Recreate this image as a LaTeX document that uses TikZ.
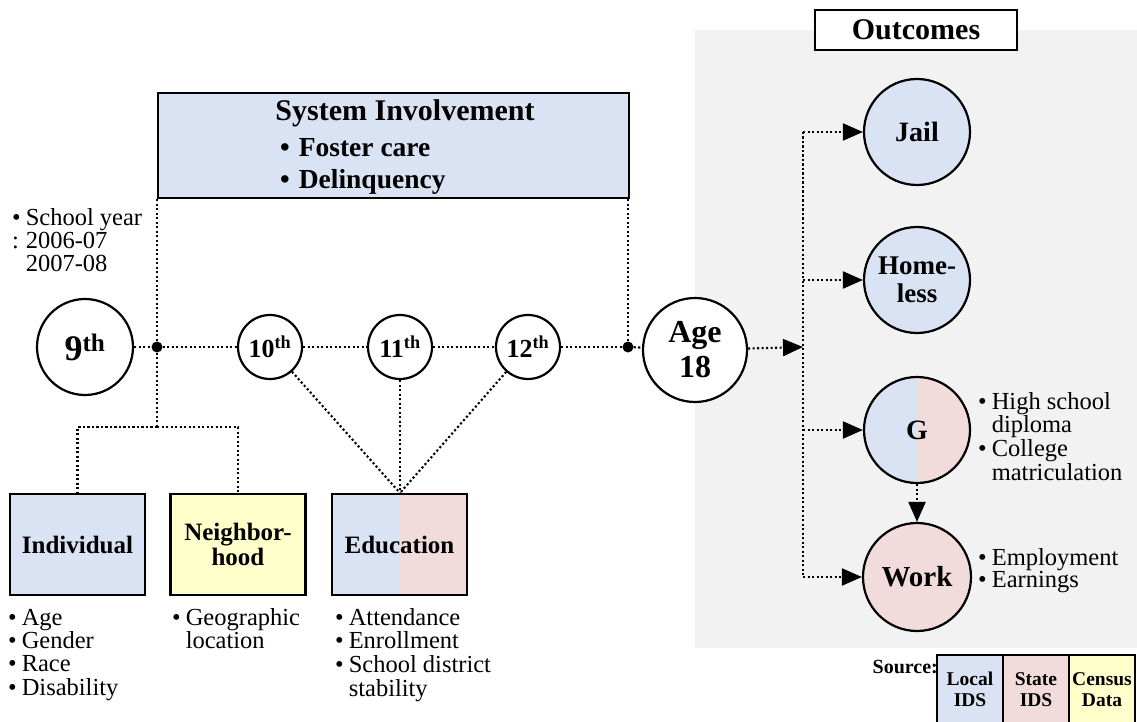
\documentclass[tikz,border=0pt]{standalone}
\usepackage{fontspec}
\setmainfont{Liberation Serif}
\usetikzlibrary{arrows.meta}
\definecolor{bluec}{HTML}{DAE3F3}
\definecolor{pinkc}{HTML}{F2DCDB}
\definecolor{yellowc}{HTML}{FFFFCC}
\definecolor{greyc}{HTML}{F2F2F2}
\newcommand\myfs[2]{\fontsize{#1}{#2}\selectfont}
\newcommand\blist[1]{\begin{tabular}[t]{@{}l@{\hspace{5pt}}l@{}}#1\end{tabular}}
\begin{document}
\begin{tikzpicture}[x=1pt,y=-1pt,
  conn/.style={line width=2.1pt, dash pattern=on 2.1pt off 2.4pt},
  arr/.style={conn, -{Triangle[length=20pt,width=17pt]}},
  circ/.style={circle, draw, line width=2.2pt, inner sep=0pt, minimum size=#1, fill=white, align=center},
  dotn/.style={circle, fill=black, inner sep=0pt, minimum size=11pt},
  boxs/.style={draw, line width=2.2pt, minimum width=135pt, minimum height=101pt, inner sep=0pt, font=\bfseries\myfs{25}{25}, align=center},
  legbox/.style={draw, line width=2pt, outer sep=0pt, minimum width=66pt, minimum height=69pt, inner sep=0pt, font=\bfseries\myfs{19.5}{21}, align=center},
  txt/.style={anchor=base west, inner sep=0pt, font=\myfs{24.5}{22.5}},
  halfpink/.style={path picture={\fill[pinkc] (path picture bounding box.north) rectangle (path picture bounding box.south east);}}
]
\useasboundingbox (0,0) rectangle (1137,722);
% grey outcomes region
\fill[greyc] (695,30) rectangle (1137,648);
\node[draw, fill=white, line width=1.8pt, minimum width=202pt, minimum height=40pt, inner sep=0pt, font=\bfseries\myfs{30}{30}] (outc) at (916,30) {Outcomes};

% system involvement box
\node[draw, fill=bluec, line width=2.2pt, minimum width=471pt, minimum height=105pt, inner sep=0pt, anchor=north west] (sys) at (157,92) {};
\node[font=\bfseries\myfs{30}{30}, inner sep=0pt] (sysT) at (405,113) {System Involvement};
\node[font=\bfseries\myfs{27.5}{27.5}, inner sep=0pt, anchor=west] (sysA) at (280,148) {\textbullet\hspace{9pt}Foster care};
\node[font=\bfseries\myfs{27.5}{27.5}, inner sep=0pt, anchor=west] (sysB) at (280,182) {\textbullet\hspace{9pt}Delinquency};

% timeline
\node[circ=96pt, font=\bfseries\myfs{36}{36}] (c9) at (85,347) {9\textsuperscript{th}};
\node[circ=64pt, font=\bfseries\myfs{26}{26}] (c10) at (270,347) {10\textsuperscript{th}};
\node[circ=64pt, font=\bfseries\myfs{26}{26}] (c11) at (400,347) {11\textsuperscript{th}};
\node[circ=64pt, font=\bfseries\myfs{26}{26}] (c12) at (528,347) {12\textsuperscript{th}};
\node[circ=104pt, font=\bfseries\myfs{32}{35}] (age) at (695,350) {Age\\18};
\node[dotn] (d1) at (157,347) {};
\node[dotn] (d2) at (628,347) {};

% input boxes
\node[boxs, fill=bluec] (indiv) at (77.5,544.5) {Individual};
\node[boxs, fill=yellowc] (neigh) at (238,544.5) {Neighbor-\\hood};
\node[boxs, fill=bluec, halfpink] (edu) at (399.5,544.5) {Education};

% outcome circles
\node[circ=106pt, fill=bluec, font=\bfseries\myfs{28}{28}] (jail) at (917,132) {Jail};
\node[circ=106pt, fill=bluec, font=\bfseries\myfs{27}{28}] (home) at (917,280) {Home-\\less};
\node[circ=106pt, fill=bluec, halfpink, font=\bfseries\myfs{28}{28}] (grad) at (917,430) {G};
\node[circ=108pt, fill=pinkc, font=\bfseries\myfs{29}{29}] (work) at (917,577) {Work};

% legend
\node[font=\bfseries\myfs{20}{20}, inner sep=0pt, anchor=east] (src) at (938,667) {Source:};
\node[legbox, fill=bluec, anchor=north west] (lloc) at (937,655) {Local\\IDS};
\node[legbox, fill=pinkc, anchor=north west] (lsta) at (lloc.north east) {State\\IDS};
\node[legbox, fill=yellowc, anchor=north west] (lcen) at (lsta.north east) {Census\\Data};

% text lists
\node[txt] (tsy) at (12,225) {\blist{\textbullet & School year\\ : & 2006-07\\ & 2007-08}};
\node[txt] (tind) at (8,625) {\blist{\textbullet & Age\\ \textbullet & Gender\\ \textbullet & Race\\ \textbullet & Disability}};
\node[txt] (tnei) at (172,625) {\blist{\textbullet & Geographic\\ & location}};
\node[txt] (tedu) at (335,625) {\blist{\textbullet & Attendance\\ \textbullet & Enrollment\\ \textbullet & School district\\ & stability}};
\node[txt] (tg) at (978,409) {\blist{\textbullet & High school\\ & diploma\\ \textbullet & College\\ & matriculation}};
\node[txt] (tw) at (978,565) {\blist{\textbullet & Employment\\ \textbullet & Earnings}};

% connectors
\coordinate (j) at (157,427);
\coordinate (et) at (400,493);
\coordinate (br) at (803,347);
\draw[conn] (c9) -- (d1);
\draw[conn] (d1) -- (c10);
\draw[conn] (c10) -- (c11);
\draw[conn] (c11) -- (c12);
\draw[conn] (c12) -- (d2);
\draw[conn] (d2) -- (age);
\draw[conn] (sys.south -| d1) -- (d1);
\draw[conn] (d1) -- (j);
\draw[conn] (sys.south -| d2) -- (d2);
\draw[conn] (j) -| (indiv.north);
\draw[conn] (j) -| (neigh.north);
\draw[conn] (c10) -- (et);
\draw[conn] (c11) -- (et);
\draw[conn] (c12) -- (et);
\draw[arr] (age) -- (br);
\draw[conn] (br |- jail) -- (br |- work);
\draw[arr] (br |- jail) -- (jail);
\draw[arr] (br |- home) -- (home);
\draw[arr] (br |- grad) -- (grad);
\draw[arr] (br |- work) -- (work);
\draw[arr] (grad) -- (work);
\end{tikzpicture}
\end{document}
